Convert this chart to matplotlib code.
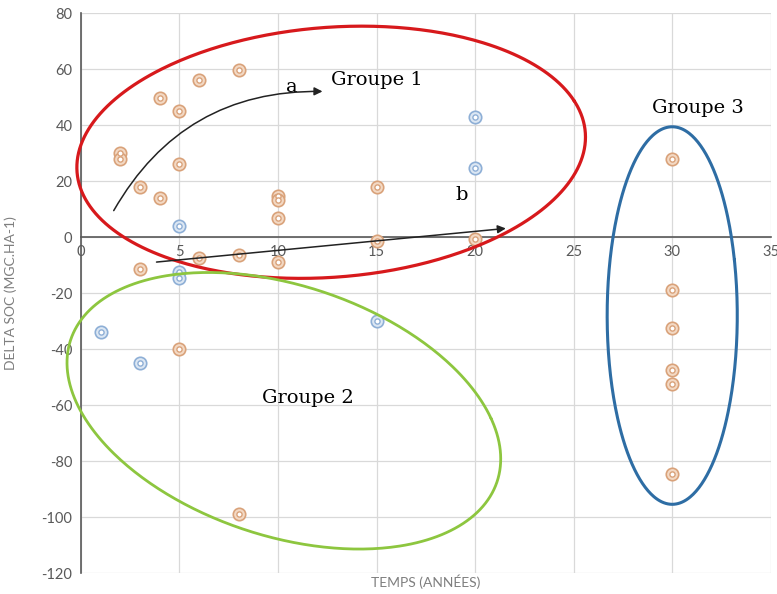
import numpy as np
import matplotlib.pyplot as plt

plt.rcParams['axes.unicode_minus'] = False

# Data
orange_x = [2, 2, 3, 4, 4, 5, 5, 6, 8, 10, 10, 10, 10, 3, 6, 8, 15, 15, 20, 5, 8,
            30, 30, 30, 30, 30, 30]
orange_y = [30, 28, 18, 14, 49.5, 45, 26, 56, 59.7, 14.7, 13.3, 7, -9, -11.5, -7.5, -6.5,
            18, -1.5, -0.8, -40, -99, 28, -19, -32.6, -47.3, -52.6, -84.6]
blue_x = [5, 5, 5, 20, 20, 1, 3, 15]
blue_y = [4, -12.5, -14.7, 43, 24.7, -33.7, -44.8, -30]

# Group ellipses: centre x, centre y, half width, half height, shear
groups = {
    'Groupe 1': (12.7, 30.3, 12.9, 44.7, 0.42, '#D7191C', 2.3),
    'Groupe 2': (10.3, -62.0, 11.0, 46.3, -1.56, '#8DC63F', 2.0),
    'Groupe 3': (30.0, -28.0, 3.3, 67.4, 0.0, '#2E6DA4', 2.2),
}
group_labels = {'Groupe 1': (15.0, 56), 'Groupe 2': (11.5, -57.5), 'Groupe 3': (31.3, 46)}

fig = plt.figure(figsize=(7.77, 5.94), dpi=100)
ax = fig.add_axes([0.104, 0.035, 0.888, 0.943])

ax.set_xlim(0, 35)
ax.set_ylim(-120, 80)
ax.set_xticks(range(0, 36, 5))
ax.set_yticks(range(-120, 81, 20))
ax.grid(True, color='#d9d9d9', lw=0.9)
ax.set_axisbelow(True)
for s in ['top', 'right']:
    ax.spines[s].set_visible(False)
ax.spines['bottom'].set_position(('data', 0))
ax.spines['bottom'].set_color('#595959')
ax.spines['left'].set_color('#595959')
ax.spines['bottom'].set_linewidth(1.2)
ax.spines['left'].set_linewidth(1.2)
ax.tick_params(length=0, labelsize=10.5, labelcolor='#595959', pad=6)
for lab in ax.get_xticklabels() + ax.get_yticklabels():
    lab.set_family('Lato')

ax.set_xlabel('TEMPS (ANNÉES)', fontsize=10, color='#7f7f7f', family='Lato')
ax.set_ylabel('DELTA SOC (MGC.HA-1)', fontsize=10, color='#7f7f7f', family='Lato')
ax.xaxis.set_label_coords(0.5, -0.003)
ax.yaxis.set_label_coords(-0.093, 0.5)

# double-ring markers
ax.scatter(orange_x, orange_y, s=80, facecolor='#F3D9C4', edgecolor='#D9A27A', lw=1.2, zorder=3)
ax.scatter(orange_x, orange_y, s=14, facecolor='white', edgecolor='#D9A27A', lw=1.0, zorder=4)
ax.scatter(blue_x, blue_y, s=80, facecolor='#DCE7F3', edgecolor='#8EAFD6', lw=1.2, zorder=3)
ax.scatter(blue_x, blue_y, s=14, facecolor='white', edgecolor='#8EAFD6', lw=1.0, zorder=4)

t = np.linspace(0.3, 0.3 + 2 * np.pi, 400)
for name, (cx, cy, a, b, k, col, lw) in groups.items():
    ex = cx + a * np.cos(t)
    ey = cy + b * np.sin(t) + k * a * np.cos(t)
    ax.plot(ex, ey, color=col, lw=lw, clip_on=False, zorder=5,
            solid_capstyle='round', solid_joinstyle='round')
    lx, ly = group_labels[name]
    ax.text(lx, ly, name, fontsize=14, family='DejaVu Serif', ha='center', va='center', zorder=6)

# trend arrows
ax.annotate('', xy=(12.4, 52), xytext=(1.6, 8.6),
            arrowprops=dict(arrowstyle='-|>', color='#222222', lw=1.1,
                            connectionstyle='arc3,rad=-0.3', mutation_scale=12), zorder=6)
ax.annotate('', xy=(21.7, 3.2), xytext=(3.7, -9),
            arrowprops=dict(arrowstyle='-|>', color='#222222', lw=1.1, mutation_scale=12), zorder=6)
ax.text(10.7, 53.5, 'a', fontsize=14, family='DejaVu Serif', ha='center', va='center')
ax.text(19.3, 15, 'b', fontsize=14, family='DejaVu Serif', ha='center', va='center')

fig.savefig('out.png', dpi=100)
